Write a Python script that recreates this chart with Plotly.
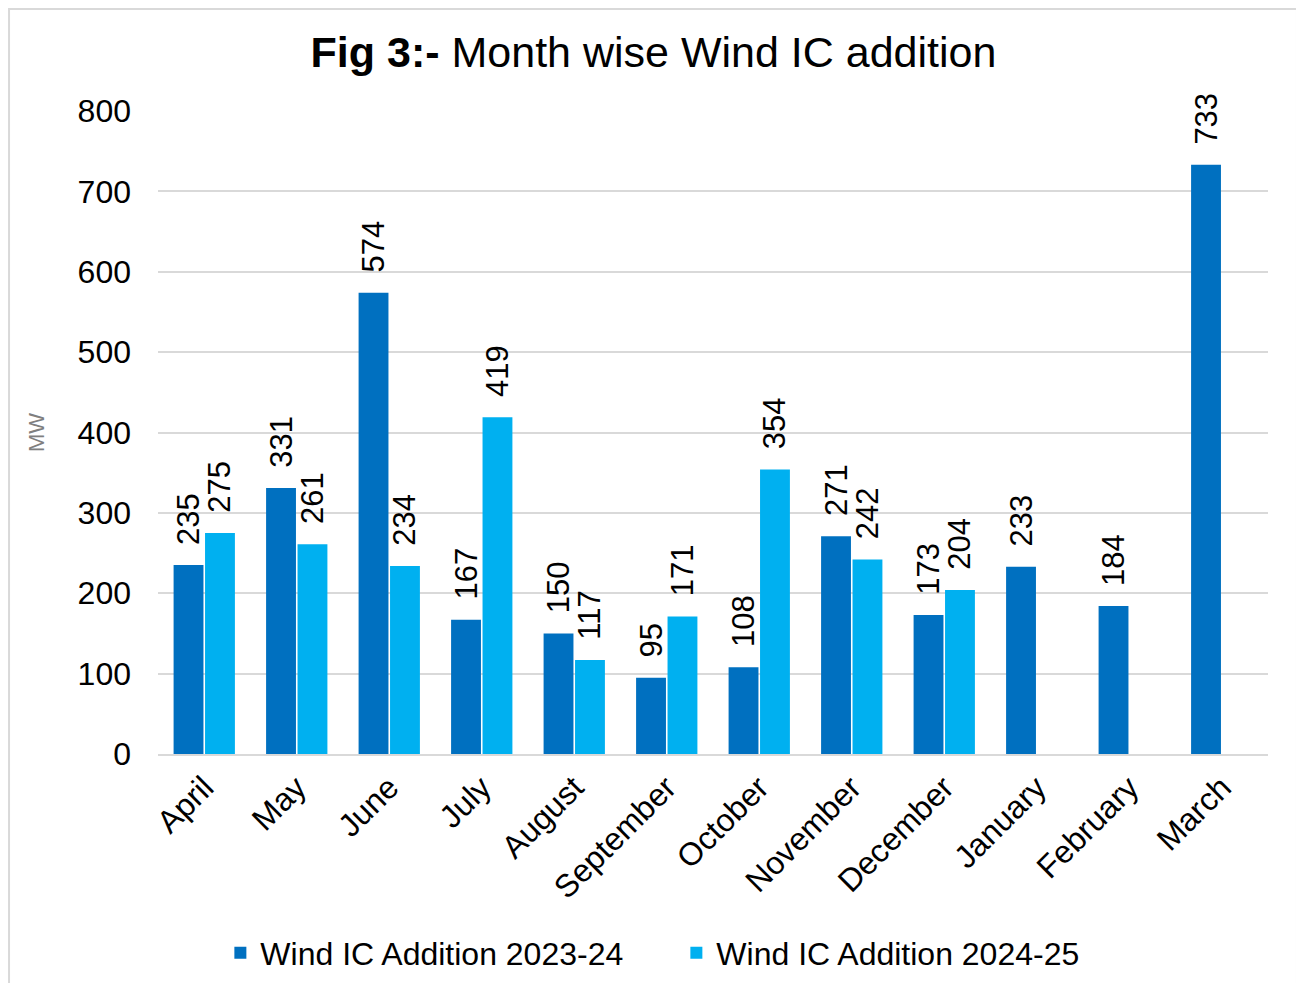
import plotly.graph_objects as go

# month-wise wind capacity addition (MW)
months = ['April', 'May', 'June', 'July', 'August', 'September', 'October',
          'November', 'December', 'January', 'February', 'March']
ic_2023_24 = [235, 331, 574, 167, 150, 95, 108, 271, 173, 233, 184, 733]
ic_2024_25 = [275, 261, 234, 419, 117, 171, 354, 242, 204, None, None, None]

font_family = "Liberation Sans, Arial, sans-serif"
pad = '\u00a0\u00a0'  # leaves a gap between bar top and its rotated label


def labels(values):
    return [pad + str(v) if v is not None else '' for v in values]


fig = go.Figure()

fig.add_trace(go.Bar(
    x=months, y=ic_2023_24, name='Wind IC Addition 2023-24',
    marker=dict(color='#0070C0', line=dict(width=0)),
    text=labels(ic_2023_24), textposition='outside', textangle=-90,
    constraintext='none', textfont=dict(size=31, color='black'), cliponaxis=False
))
fig.add_trace(go.Bar(
    x=months, y=ic_2024_25, name='Wind IC Addition 2024-25',
    marker=dict(color='#00B0F0', line=dict(width=0)),
    text=labels(ic_2024_25), textposition='outside', textangle=-90,
    constraintext='none', textfont=dict(size=31, color='black'), cliponaxis=False
))

fig.update_layout(
    width=1291, height=975,
    margin=dict(l=150, r=31, t=103, b=229, autoexpand=False),
    paper_bgcolor='white', plot_bgcolor='white',
    font=dict(family=font_family, size=32, color='black'),
    title=dict(
        text='<b>Fig 3:-</b> Month wise Wind IC addition',
        x=0.5, xref='container', xanchor='center',
        y=0.9549, yref='container', yanchor='middle',
        font=dict(size=43, color='black')
    ),
    barmode='group', bargap=0.32, bargroupgap=0.05,
    legend=dict(
        orientation='h', x=0.467, xanchor='center',
        y=-0.3095, yanchor='middle',
        font=dict(size=32, color='black'),
        itemwidth=30, entrywidth=411, traceorder='normal'
    ),
    xaxis=dict(
        tickangle=-45, showgrid=False, showline=True,
        linecolor='#D9D9D9', linewidth=2, ticks='',
        tickfont=dict(size=32, color='black')
    ),
    yaxis=dict(
        range=[0, 800], dtick=100, showgrid=True, gridcolor='#D9D9D9',
        gridwidth=2, zeroline=False, showline=False, ticks='',
        tickfont=dict(size=32, color='black'), ticklabelstandoff=26,
        title=dict(text='MW', font=dict(size=22, color='#7F7F7F'), standoff=26)
    ),
    shapes=[dict(
        type='rect', xref='paper', yref='paper',
        x0=-0.1342, x1=1.0261, y0=-0.6, y1=1.1586,
        line=dict(color='#D9D9D9', width=2), fillcolor='rgba(0,0,0,0)', layer='below'
    )]
)

fig.write_html("out.html")
